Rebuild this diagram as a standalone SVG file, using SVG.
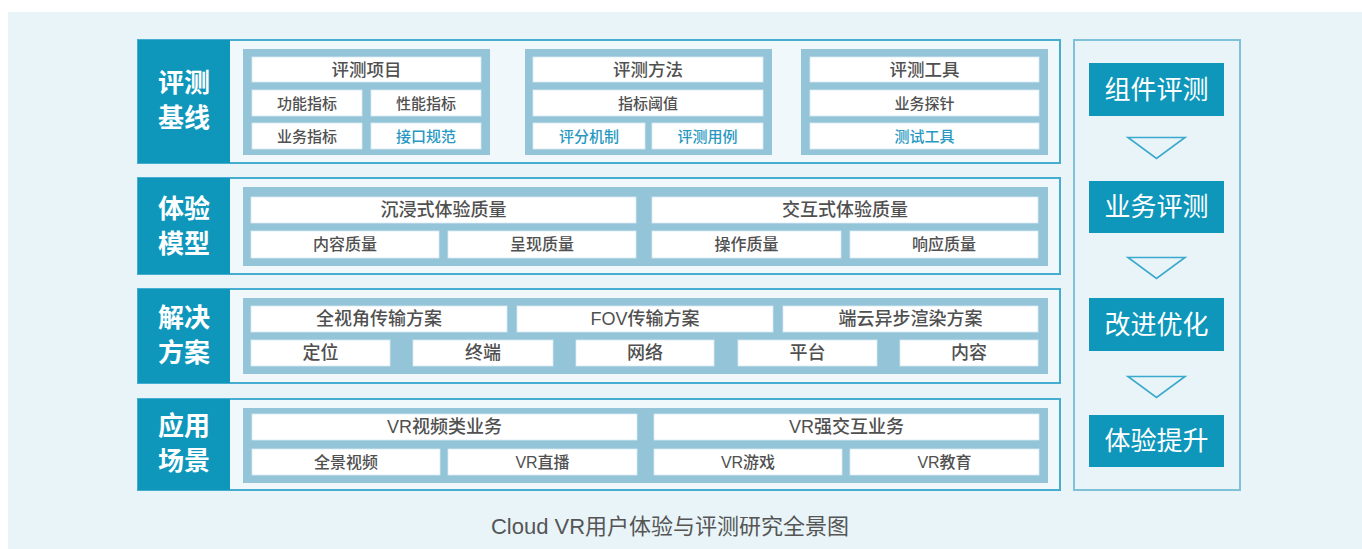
<svg xmlns="http://www.w3.org/2000/svg" width="1362" height="549" viewBox="0 0 1362 549">
  <style>
    .page { fill: #e9f4f8; }
    .row { fill: #f0f8fb; stroke: #45aed0; stroke-width: 2; }
    .tag { fill: #0e97bb; }
    .grp { fill: #94c4d8; }
    .cell { fill: #ffffff; stroke: #d6ebf3; stroke-width: 0.8; }
    .side { fill: #e9f4f8; stroke: #7fc1d9; stroke-width: 2; }
    .step { fill: #0e97bb; }
    .tri { fill: none; stroke: #3aa9cd; stroke-width: 1.6; stroke-linejoin: miter; }
    text { font-family: "Liberation Sans", "Noto Sans CJK SC", sans-serif; text-anchor: middle; dominant-baseline: central; }
    .tagt { fill: #ffffff; font-size: 26px; font-weight: bold; }
    .stept { fill: #ffffff; font-size: 26px; }
    .t { fill: #505050; font-weight: 500; }
    .b { fill: #2898c2; font-weight: 500; }
    .s15 { font-size: 15px; }
    .s16 { font-size: 16px; }
    .s17 { font-size: 17.5px; }
    .s18 { font-size: 18px; }
    .cap { fill: #555555; font-size: 22px; dominant-baseline: alphabetic; }
  </style>

  <rect class="page" x="8" y="12" width="1354" height="537"/>

  <!-- Layer 1: evaluation baseline -->
  <g id="baseline">
    <rect class="row" x="138" y="40" width="922" height="123"/>
    <rect class="tag" x="138" y="40" width="92" height="123"/>
    <text class="tagt" x="184" y="83">评测</text>
    <text class="tagt" x="184" y="118">基线</text>
  </g>
  <g id="eval-items">
    <rect class="grp" x="243" y="49" width="247" height="106"/>
    <rect class="cell" x="252" y="57" width="229" height="25"/>
    <text class="t s17" x="366.5" y="69.5">评测项目</text>
    <rect class="cell" x="252" y="90" width="110" height="26"/>
    <text class="t s15" x="307" y="103">功能指标</text>
    <rect class="cell" x="371" y="90" width="110" height="26"/>
    <text class="t s15" x="426" y="103">性能指标</text>
    <rect class="cell" x="252" y="123" width="110" height="26"/>
    <text class="t s15" x="307" y="136">业务指标</text>
    <rect class="cell" x="371" y="123" width="110" height="26"/>
    <text class="b s15" x="426" y="136">接口规范</text>
  </g>
  <g id="eval-methods">
    <rect class="grp" x="525" y="49" width="247" height="106"/>
    <rect class="cell" x="533" y="57" width="230" height="25"/>
    <text class="t s17" x="648" y="69.5">评测方法</text>
    <rect class="cell" x="533" y="90" width="230" height="26"/>
    <text class="t s15" x="648" y="103">指标阈值</text>
    <rect class="cell" x="533" y="123" width="112" height="26"/>
    <text class="b s15" x="589" y="136">评分机制</text>
    <rect class="cell" x="652" y="123" width="111" height="26"/>
    <text class="b s15" x="707.5" y="136">评测用例</text>
  </g>
  <g id="eval-tools">
    <rect class="grp" x="801" y="49" width="247" height="106"/>
    <rect class="cell" x="810" y="57" width="229" height="25"/>
    <text class="t s17" x="924.5" y="69.5">评测工具</text>
    <rect class="cell" x="810" y="90" width="229" height="26"/>
    <text class="t s15" x="924.5" y="103">业务探针</text>
    <rect class="cell" x="810" y="123" width="229" height="26"/>
    <text class="b s15" x="924.5" y="136">测试工具</text>
  </g>

  <!-- Layer 2: experience model -->
  <g id="experience-model">
    <rect class="row" x="138" y="178" width="922" height="96"/>
    <rect class="tag" x="138" y="178" width="92" height="96"/>
    <text class="tagt" x="184" y="209">体验</text>
    <text class="tagt" x="184" y="244">模型</text>
    <rect class="grp" x="243" y="187" width="805" height="79"/>
    <rect class="cell" x="251" y="197" width="385" height="26"/>
    <text class="t s18" x="443.5" y="210">沉浸式体验质量</text>
    <rect class="cell" x="652" y="197" width="386" height="26"/>
    <text class="t s18" x="845" y="210">交互式体验质量</text>
    <rect class="cell" x="251" y="231" width="188" height="27"/>
    <text class="t s16" x="345" y="244.5">内容质量</text>
    <rect class="cell" x="448" y="231" width="188" height="27"/>
    <text class="t s16" x="542" y="244.5">呈现质量</text>
    <rect class="cell" x="652" y="231" width="189" height="27"/>
    <text class="t s16" x="746.5" y="244.5">操作质量</text>
    <rect class="cell" x="850" y="231" width="188" height="27"/>
    <text class="t s16" x="944" y="244.5">响应质量</text>
  </g>

  <!-- Layer 3: solutions -->
  <g id="solutions">
    <rect class="row" x="138" y="289" width="922" height="94"/>
    <rect class="tag" x="138" y="289" width="92" height="94"/>
    <text class="tagt" x="184" y="318">解决</text>
    <text class="tagt" x="184" y="353">方案</text>
    <rect class="grp" x="243" y="298" width="805" height="76"/>
    <rect class="cell" x="251" y="306" width="256" height="26"/>
    <text class="t s18" x="379" y="319">全视角传输方案</text>
    <rect class="cell" x="517" y="306" width="256" height="26"/>
    <text class="t s18" x="645" y="319">FOV传输方案</text>
    <rect class="cell" x="783" y="306" width="255" height="26"/>
    <text class="t s18" x="910.5" y="319">端云异步渲染方案</text>
    <rect class="cell" x="251" y="340" width="139" height="26"/>
    <text class="t s18" x="320.5" y="353">定位</text>
    <rect class="cell" x="413" y="340" width="140" height="26"/>
    <text class="t s18" x="483" y="353">终端</text>
    <rect class="cell" x="576" y="340" width="138" height="26"/>
    <text class="t s18" x="645" y="353">网络</text>
    <rect class="cell" x="738" y="340" width="139" height="26"/>
    <text class="t s18" x="807.5" y="353">平台</text>
    <rect class="cell" x="900" y="340" width="138" height="26"/>
    <text class="t s18" x="969" y="353">内容</text>
  </g>

  <!-- Layer 4: application scenarios -->
  <g id="scenarios">
    <rect class="row" x="138" y="399" width="922" height="91"/>
    <rect class="tag" x="138" y="399" width="92" height="91"/>
    <text class="tagt" x="184" y="426">应用</text>
    <text class="tagt" x="184" y="461">场景</text>
    <rect class="grp" x="243" y="408" width="805" height="75"/>
    <rect class="cell" x="252" y="414" width="385" height="26"/>
    <text class="t s18" x="444.5" y="427">VR视频类业务</text>
    <rect class="cell" x="654" y="414" width="385" height="26"/>
    <text class="t s18" x="846.5" y="427">VR强交互业务</text>
    <rect class="cell" x="252" y="449" width="188" height="26"/>
    <text class="t s16" x="346" y="462">全景视频</text>
    <rect class="cell" x="448" y="449" width="189" height="26"/>
    <text class="t s16" x="542.5" y="462">VR直播</text>
    <rect class="cell" x="654" y="449" width="188" height="26"/>
    <text class="t s16" x="748" y="462">VR游戏</text>
    <rect class="cell" x="850" y="449" width="189" height="26"/>
    <text class="t s16" x="944.5" y="462">VR教育</text>
  </g>

  <!-- Improvement cycle column -->
  <g id="cycle">
    <rect class="side" x="1074" y="40" width="166" height="450"/>
  </g>
  <g id="step-component">
    <rect class="step" x="1089" y="63" width="135" height="53"/>
    <text class="stept" x="1156.5" y="89.5">组件评测</text>
  </g>
  <g id="step-service">
    <rect class="step" x="1089" y="181" width="135" height="52"/>
    <text class="stept" x="1156.5" y="207">业务评测</text>
  </g>
  <g id="step-improve">
    <rect class="step" x="1089" y="298" width="135" height="53"/>
    <text class="stept" x="1156.5" y="324.5">改进优化</text>
  </g>
  <g id="step-upgrade">
    <rect class="step" x="1089" y="415" width="135" height="52"/>
    <text class="stept" x="1156.5" y="441">体验提升</text>
  </g>
  <g id="connectors">
    <polygon class="tri" points="1128,137.5 1185,137.5 1156.5,158.5"/>
    <polygon class="tri" points="1128,257.5 1185,257.5 1156.5,278.5"/>
    <polygon class="tri" points="1128,376.5 1185,376.5 1156.5,397.5"/>
  </g>

  <text class="cap" x="670" y="534">Cloud VR用户体验与评测研究全景图</text>
</svg>
